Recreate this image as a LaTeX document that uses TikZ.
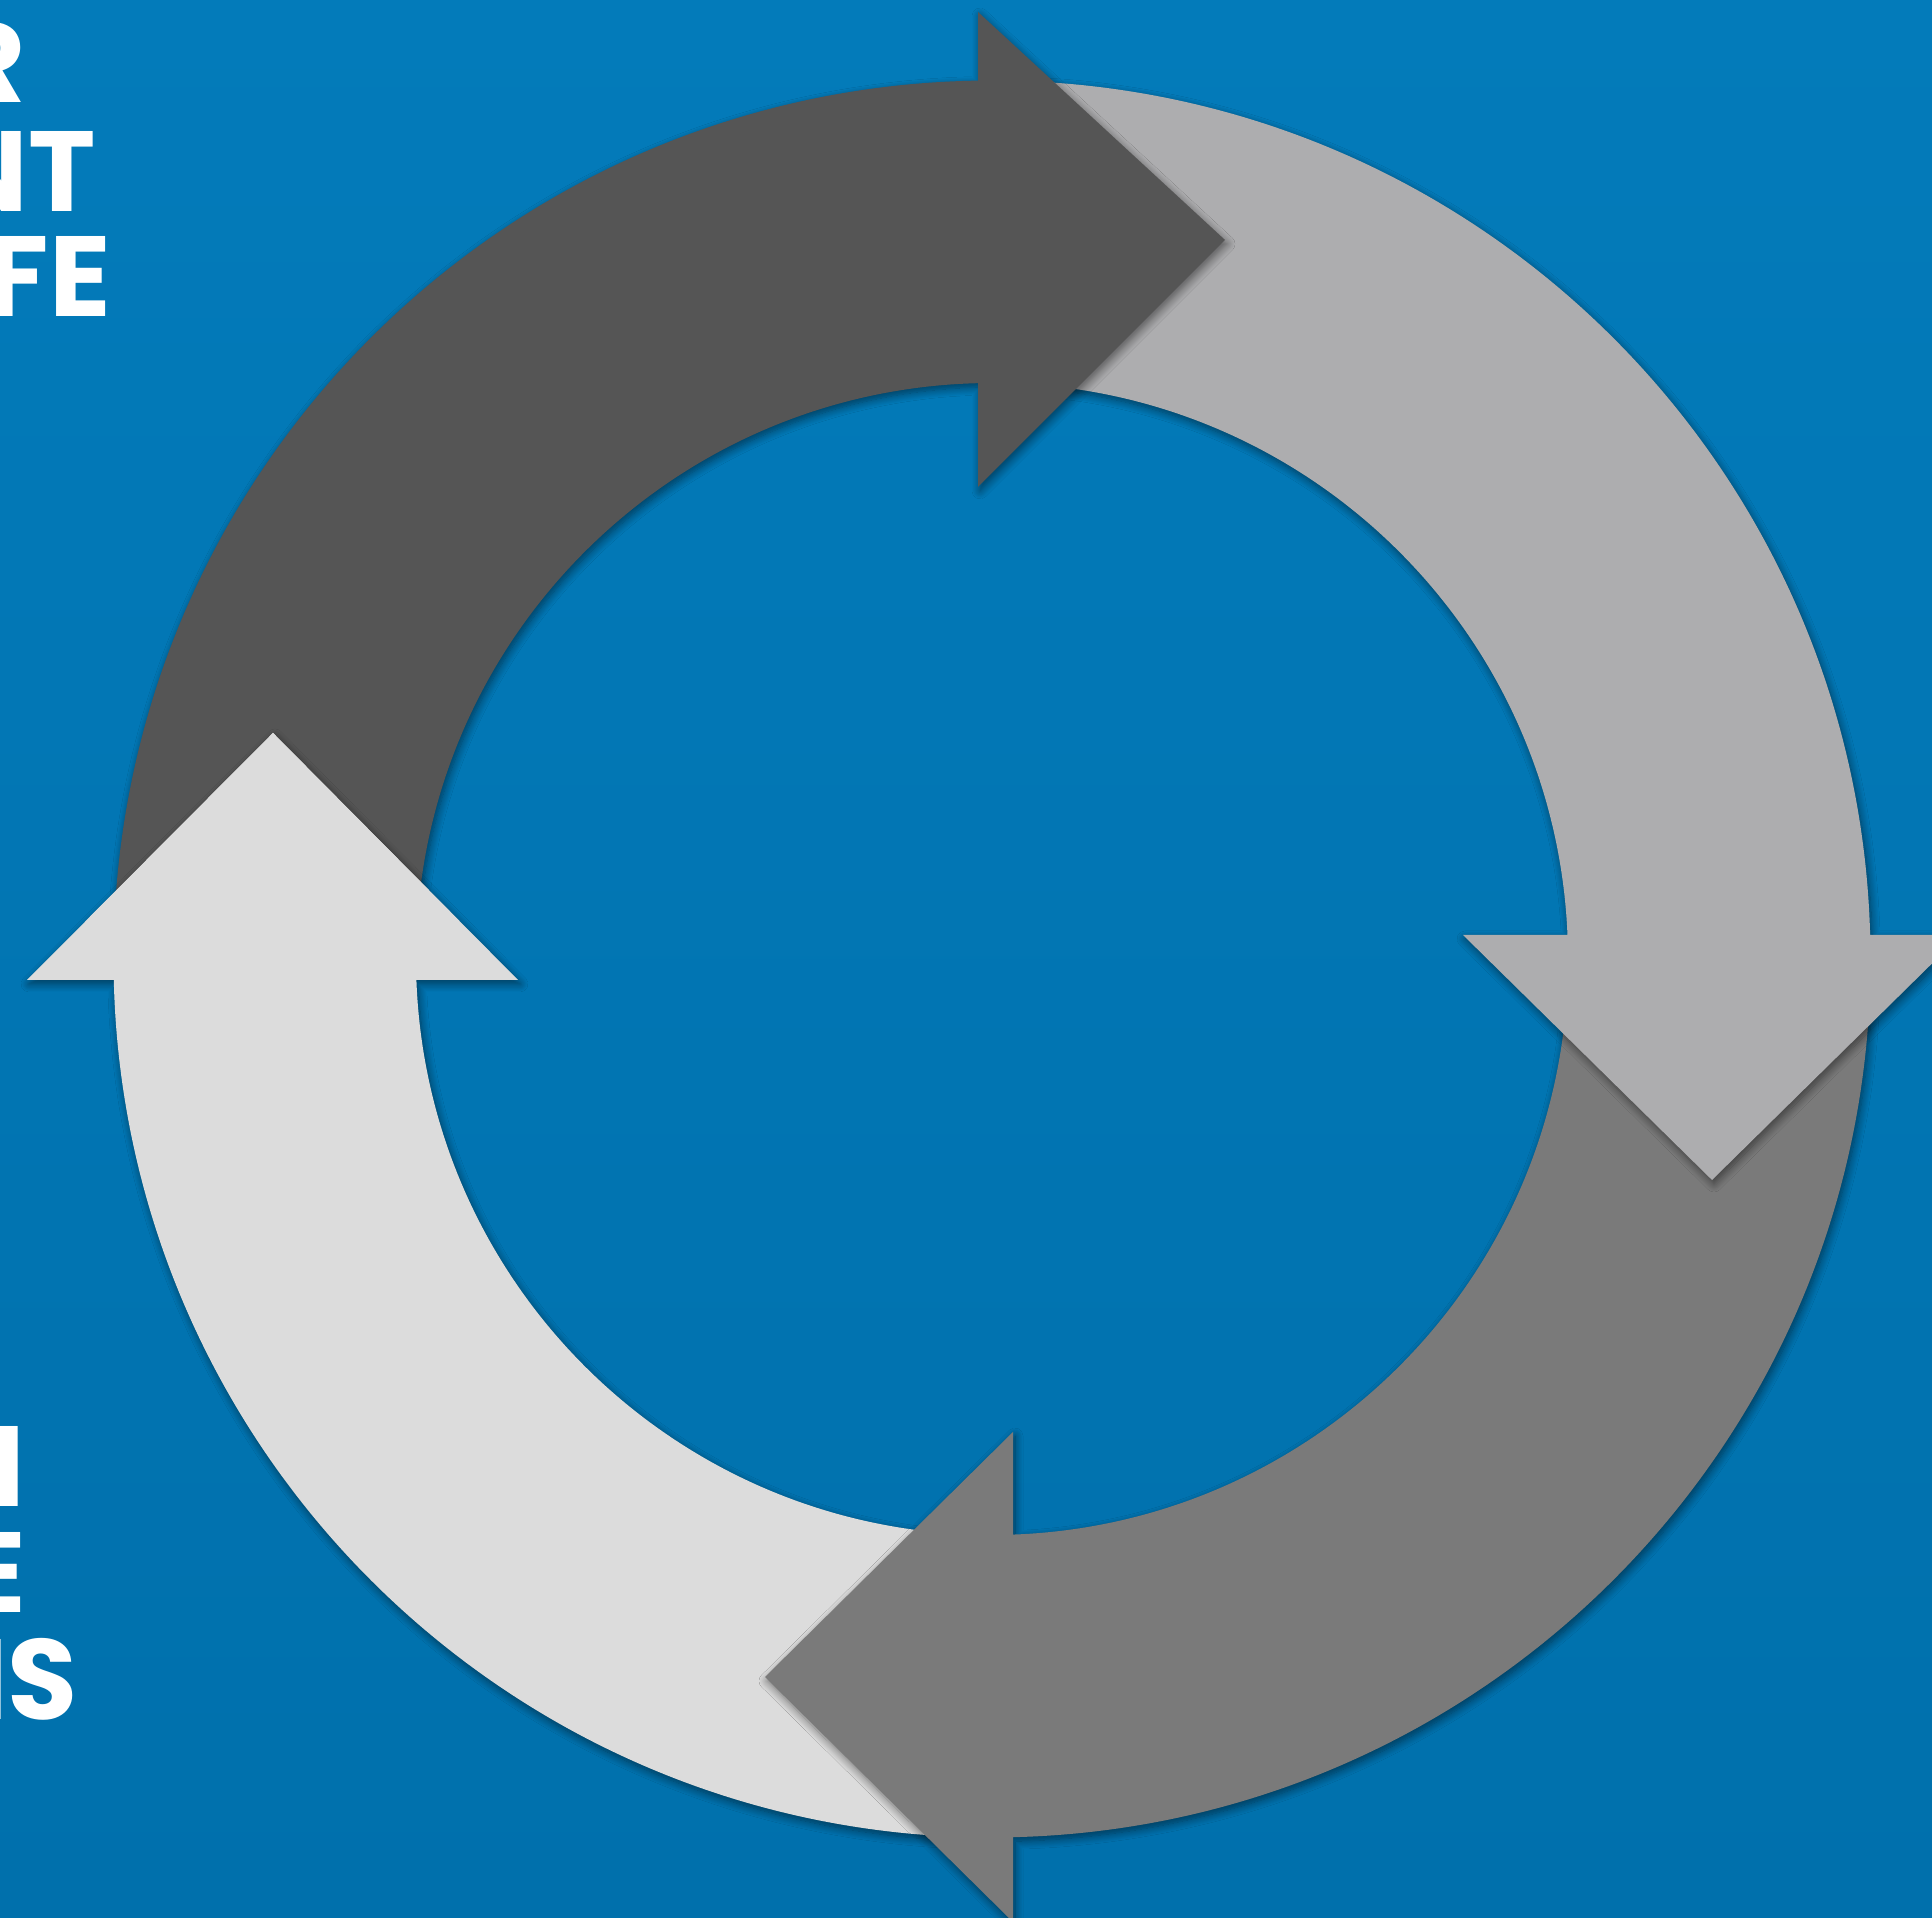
\documentclass[tikz,border=0pt]{standalone}
\usepackage{fontspec}
\newfontfamily\headfont{Poppins}
\usetikzlibrary{calc,shadows.blur}
\definecolor{bgblue}{RGB}{3,123,186}
\definecolor{bgblueb}{RGB}{0,112,172}
\definecolor{arrdark}{RGB}{85,85,85}
\definecolor{arrlight}{RGB}{173,173,175}
\definecolor{arrmid}{RGB}{122,122,122}
\definecolor{arrpale}{RGB}{220,220,220}
\begin{document}
\begin{tikzpicture}[x=1pt,y=1pt,
  ring/.style={blur shadow={shadow xshift=2pt,shadow yshift=-4pt,shadow blur radius=8pt,shadow blur steps=10,shadow opacity=50}},
  lbl/.style={font=\headfont\bfseries\fontsize{114}{114}\selectfont,text=white,inner sep=0pt,anchor=base east}]
\useasboundingbox (0,0) rectangle (1932,1918);
\clip (0,0) rectangle (1932,1918);
\shade[top color=bgblue,bottom color=bgblueb] (0,0) rectangle (1932,1918);
\coordinate (C) at (992,959);

% pale arrow (bottom-left to left, pointing up)
\fill[arrpale,ring] ($(C)+(-91.8:878.5)$) arc[start angle=-91.8,end angle=-178.63,radius=878.5]
  -- (27,938) -- (273,1185) -- (518,938)
  -- ($(C)+(-177.91:576)$) arc[start angle=-177.91,end angle=-91.8,radius=576] -- cycle;

% mid-grey arrow (bottom-right to bottom, pointing left)
\fill[arrmid,ring] ($(C)+(-2:878.5)$) arc[start angle=-2,end angle=-88.63,radius=878.5]
  -- (1013,-4) -- (765,241) -- (1013,486)
  -- ($(C)+(-87.91:576)$) arc[start angle=-87.91,end angle=-2,radius=576] -- cycle;

% light-grey arrow (top-right to right, pointing down)
\fill[arrlight,ring] ($(C)+(88.5:878.5)$) arc[start angle=88.5,end angle=1.566,radius=878.5]
  -- (1961,983) -- (1712,738) -- (1463,983)
  -- ($(C)+(2.388:576)$) arc[start angle=2.388,end angle=88.5,radius=576] -- cycle;

% dark arrow (left to top, pointing right)
\fill[arrdark,ring] ($(C)+(178.8:878.5)$) arc[start angle=178.8,end angle=90.91,radius=878.5]
  -- (978,1906) -- (1225,1678) -- (978,1431)
  -- ($(C)+(91.39:576)$) arc[start angle=91.39,end angle=178.8,radius=576] -- cycle;

% pale arrow head again over the dark tail: shadow only on the dark band ...
\begin{scope}
  \clip ($(C)+(178.8:878.5)$) arc[start angle=178.8,end angle=160,radius=878.5]
    -- ($(C)+(160:576)$) arc[start angle=160,end angle=178.8,radius=576] -- cycle;
  \fill[arrpale,ring] (27,938) -- (273,1185) -- (518,938) -- cycle;
\end{scope}
% ... then a clean fill of the head on top
\begin{scope}
  \clip (90,938) rectangle (450,1250);
  \fill[arrpale] (27,938) -- (273,1185) -- (518,938) -- cycle;
\end{scope}

% clipped texts on the left edge
\node[lbl] (t1) at (26,1815) {R};
\node[lbl] (t2) at (96,1706) {NT};
\node[lbl] (t3) at (111,1601) {FE};
\node[lbl] (t4) at (25,411) {N};
\node[lbl] (t5) at (26,305) {E};
\node[lbl] (t6) at (78,198) {IS};
\end{tikzpicture}
\end{document}
